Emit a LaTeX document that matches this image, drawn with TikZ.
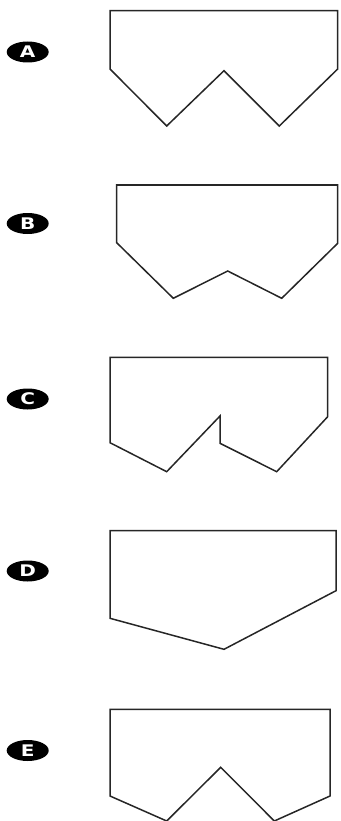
\documentclass[tikz,border=0pt]{standalone}
\usepackage{fontspec}
\setmainfont{DejaVu Sans}
\usetikzlibrary{shapes.geometric}
\tikzset{
  badge/.style={ellipse, fill=black, text=white, minimum width=42pt, minimum height=21pt, inner sep=0pt, font=\fontsize{16}{16}\selectfont\bfseries},
  outline/.style={draw=black!85, line width=1.5pt, line join=miter}
}
\newcommand{\bletter}[1]{\scalebox{1.25}[1]{#1}}
\begin{document}
\begin{tikzpicture}[x=1pt,y=-1pt]
\useasboundingbox (0,0) rectangle (340,821);
% A
\node[badge] (bA) at (27.7,52) {\bletter{A}};
\draw[outline] (110,10.7) -- (337.7,10.7) -- (337.7,69) -- (279.3,126) -- (224,70.7) -- (166.7,126) -- (110,69) -- cycle;
% B
\node[badge] (bB) at (27.7,223.5) {\bletter{B}};
\draw[outline] (116.7,185) -- (337.7,185) -- (337.7,243.3) -- (281.7,298.3) -- (227.7,271) -- (173.3,298.3) -- (116.7,242.7) -- cycle;
% C
\node[badge] (bC) at (27.7,399) {\bletter{C}};
\draw[outline] (110,357.3) -- (327.7,357.3) -- (327.7,416.7) -- (276.7,471.7) -- (220,443.3) -- (220,416) -- (166.7,471.7) -- (110,442.7) -- cycle;
% D
\node[badge] (bD) at (27.7,571) {\bletter{D}};
\draw[outline] (110,530.7) -- (336,530.7) -- (336,590.7) -- (224,649.3) -- (110,618.3) -- cycle;
% E
\node[badge] (bE) at (27.7,750.5) {\bletter{E}};
\draw[outline] (110,709.3) -- (330,709.3) -- (330,796) -- (274.3,821) -- (220.7,767.3) -- (166.7,821) -- (110,796) -- cycle;
\end{tikzpicture}
\end{document}
